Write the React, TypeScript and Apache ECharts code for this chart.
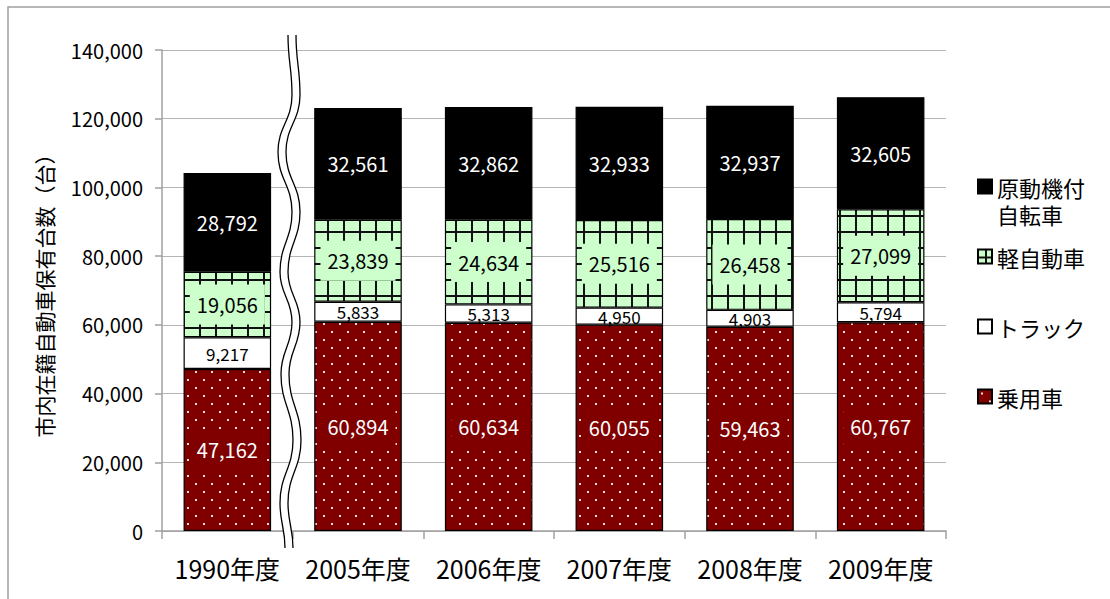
import { useEffect, useRef } from 'react';
import * as echarts from 'echarts';

// Registered vehicles in the city by fiscal year (units: vehicles)
const categories = ['1990年度', '2005年度', '2006年度', '2007年度', '2008年度', '2009年度'];
const passengerCars = [47162, 60894, 60634, 60055, 59463, 60767];
const trucks = [9217, 5833, 5313, 4950, 4903, 5794];
const keiCars = [19056, 23839, 24634, 25516, 26458, 27099];
const mopeds = [28792, 32561, 32862, 32933, 32937, 32605];

const seriesNames = ['乗用車', 'トラック', '軽自動車', '原動機付自転車'];
const legendOrder = ['原動機付自転車', '軽自動車', 'トラック', '乗用車'];

const yMin = 0;
const yMax = 140000;
const yStep = 20000;

const FONT = '"Noto Sans CJK JP", "Noto Sans", sans-serif';

// Maroon tile with staggered light dots
function dotTile(): HTMLCanvasElement {
  const c = document.createElement('canvas');
  c.width = 16;
  c.height = 16;
  const g = c.getContext('2d')!;
  g.fillStyle = '#800000';
  g.fillRect(0, 0, 16, 16);
  g.fillStyle = '#f3dcdc';
  g.fillRect(3, 3, 2, 2);
  g.fillRect(11, 11, 2, 2);
  return c;
}

// Pale green tile with a dark grid
function gridTile(): HTMLCanvasElement {
  const c = document.createElement('canvas');
  c.width = 16;
  c.height = 16;
  const g = c.getContext('2d')!;
  g.fillStyle = '#ccffcc';
  g.fillRect(0, 0, 16, 16);
  g.fillStyle = '#111111';
  g.fillRect(7, 0, 2, 16);
  g.fillRect(0, 7, 16, 2);
  return c;
}

// Axis-break wave between the first two categories
const wave: [number, number][] = [
  [288, 35], [292, 95], [278, 152], [292, 212], [280, 272],
  [292, 322], [281, 374], [293, 440], [280, 503], [285, 548],
];
const waveGap = 8;

function curve(pts: [number, number][], dx: number, reverse: boolean, move: boolean): string {
  const p = pts.map(([x, y]) => [x + dx, y] as [number, number]);
  if (reverse) p.reverse();
  let d = (move ? 'M' : 'L') + p[0][0] + ' ' + p[0][1];
  for (let i = 1; i < p.length; i++) {
    const [x0, y0] = p[i - 1];
    const [x1, y1] = p[i];
    const h = (y1 - y0) * 0.45;
    d += ` C${x0} ${y0 + h} ${x1} ${y1 - h} ${x1} ${y1}`;
  }
  return d;
}

let shapesRegistered = false;
function registerBreakShapes() {
  if (shapesRegistered) return;
  const band = curve(wave, 0, false, true) + ' ' + curve(wave, waveGap, true, false) + ' Z';
  const lines = curve(wave, 0, false, true) + ' ' + curve(wave, waveGap, false, true);
  echarts.graphic.registerShape('breakBand', echarts.graphic.extendPath(band, {}));
  echarts.graphic.registerShape('breakLines', echarts.graphic.extendPath(lines, {}));
  shapesRegistered = true;
}

export default function App() {
  const ref = useRef<HTMLDivElement>(null);

  useEffect(() => {
    if (!ref.current) return;
    registerBreakShapes();
    const chart = echarts.init(ref.current, null, { renderer: 'svg' });

    const dots = { image: dotTile(), repeat: 'repeat', imageWidth: 16, imageHeight: 16 };
    const grid = { image: gridTile(), repeat: 'repeat', imageWidth: 16, imageHeight: 16 };

    const seriesData = [passengerCars, trucks, keiCars, mopeds];
    const fills: any[] = [dots, '#ffffff', grid, '#000000'];
    const labelColors = ['#ffffff', '#000000', '#000000', '#ffffff'];
    const labelBg = ['#800000', 'transparent', '#ccffcc', 'transparent'];
    const labelSizes = [20, 17, 20, 20];
    const labelPad = [[10, 7], [0, 0], [10, 7], [0, 0]];

    const fmt = (v: number) => v.toLocaleString('en-US');

    const legendRich = { t: { fontSize: 22, lineHeight: 27, color: '#000', fontFamily: FONT } };

    chart.setOption({
      animation: false,
      backgroundColor: '#ffffff',
      textStyle: { fontFamily: FONT },
      grid: { left: 162, right: 164, top: 50, bottom: 68 },
      legend: {
        orient: 'vertical',
        left: 977,
        top: 146,
        padding: 0,
        itemGap: -11,
        itemWidth: 14,
        itemHeight: 14,
        icon: 'rect',
        selectedMode: false,
        textStyle: { fontSize: 22, color: '#000', lineHeight: 27, fontFamily: FONT, rich: legendRich },
        formatter: (name: string) =>
          name === '原動機付自転車' ? '{t|原動機付}\n{t|自転車}' : `{t|${name}}`,
        data: legendOrder.map((name) => ({
          name,
          textStyle: {
            fontSize: 22,
            lineHeight: 27,
            color: '#000',
            fontFamily: FONT,
            rich: legendRich,
            padding: name === '原動機付自転車' ? [27, 0, 0, 0] : [27, 0, 27, 0],
          },
        })),
      },
      xAxis: {
        type: 'category',
        data: categories,
        axisLine: { lineStyle: { color: '#a0a0a0', width: 1.5 } },
        axisTick: { show: true, length: 8, interval: 0, alignWithLabel: false, lineStyle: { color: '#a0a0a0', width: 1.5 } },
        axisLabel: { fontSize: 25, color: '#000', margin: 24, interval: 0 },
      },
      yAxis: {
        type: 'value',
        min: yMin,
        max: yMax,
        interval: yStep,
        name: '市内在籍自動車保有台数（台）',
        nameLocation: 'middle',
        nameGap: 108,
        nameTextStyle: { fontSize: 21, color: '#000' },
        axisLine: { show: true, lineStyle: { color: '#a0a0a0', width: 1.5 } },
        axisTick: { show: true, length: 7, lineStyle: { color: '#a0a0a0', width: 1.5 } },
        axisLabel: { fontSize: 20, color: '#000', margin: 19, formatter: fmt },
        splitLine: { lineStyle: { color: '#b4b4b4', width: 1 } },
      },
      series: seriesNames.map((name, i) => ({
        name,
        type: 'bar',
        stack: 'total',
        barCategoryGap: '33%',
        data: seriesData[i],
        itemStyle: { color: fills[i], borderColor: '#000', borderWidth: 1.2 },
        label: {
          show: true,
          position: 'inside',
          color: labelColors[i],
          fontSize: labelSizes[i],
          fontFamily: FONT,
          backgroundColor: labelBg[i],
          padding: labelPad[i],
          formatter: (p: any) => fmt(p.value),
        },
      })),
      graphic: [
        {
          type: 'rect',
          z: 100,
          shape: { x: 8, y: 7, width: 1300, height: 800 },
          style: { fill: 'none', stroke: '#a0a0a0', lineWidth: 1.5 },
          silent: true,
        },
        { type: 'breakBand', x: 0, y: 0, z: 100, silent: true, style: { fill: '#ffffff', stroke: 'none' } },
        { type: 'breakLines', x: 0, y: 0, z: 101, silent: true, style: { fill: 'none', stroke: '#000000', lineWidth: 1.3 } },
      ],
    });

    return () => chart.dispose();
  }, []);

  return (
    <div
      ref={ref}
      style={{ position: 'fixed', left: 0, top: 0, width: 1110, height: 599, background: '#fff' }}
    />
  );
}
